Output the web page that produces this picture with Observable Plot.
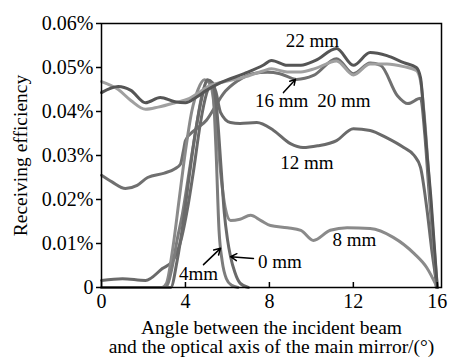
<!DOCTYPE html>
<html><head><meta charset="utf-8">
<script src="https://cdn.jsdelivr.net/npm/d3@7"></script>
<script src="https://cdn.jsdelivr.net/npm/@observablehq/plot@0.6"></script>
<style>
body{margin:0;background:#fff}
#chart svg, #chart svg text, #chart svg g{font-family:'Liberation Serif','Times New Roman',serif !important;}
</style>
</head><body><div id="chart"></div>
<script>
// Series values (receiving efficiency in %)
const x0 = [0, 3.3, 3.6, 3.9, 4.2, 4.5, 4.8, 5.05, 5.3, 5.5, 5.7, 5.85, 6.0, 6.15, 6.35, 6.6, 7.0];
const y0 = [0, 0, 0.006, 0.015, 0.026, 0.036, 0.0435, 0.0472, 0.0465, 0.04, 0.027, 0.017, 0.011, 0.007, 0.0035, 0.001, 0];
const x4 = [2.8, 3.05, 3.4, 3.6, 3.86, 4.2, 4.5, 4.8, 5.05, 5.3, 5.45, 5.6, 5.75, 5.95, 6.2, 6.5];
const y4 = [0, 0, 0.0054, 0.0107, 0.0168, 0.027, 0.036, 0.044, 0.047, 0.045, 0.032, 0.013, 0.006, 0.002, 0.0005, 0];
const x8 = [2.9, 3.1, 3.4, 3.7, 4.0, 4.3, 4.6, 4.9, 5.2, 5.45, 5.7, 5.9, 6.15, 6.6, 7.1, 7.6, 8.05, 8.86, 9.5, 10.1, 10.9, 11.7, 12.8, 13.9, 14.9, 15.5, 16.0];
const y8 = [0, 0.001, 0.009, 0.02, 0.031, 0.04, 0.045, 0.0472, 0.046, 0.038, 0.025, 0.018, 0.0152, 0.0155, 0.0164, 0.0152, 0.0141, 0.0136, 0.013, 0.0107, 0.013, 0.0136, 0.0134, 0.0114, 0.0077, 0.0045, 0];
const x12 = [0, 1, 2.1, 2.9, 3.4, 3.8, 4.1, 4.4, 4.7, 5.0, 5.25, 5.45, 5.67, 6.14, 6.6, 7.4, 8.2, 9.0, 9.6, 10.3, 11.2, 12.0, 12.8, 13.6, 14.4, 14.9, 15.2, 15.5, 15.75, 16.0];
const y12 = [0.0016, 0.002, 0.0016, 0.0043, 0.0061, 0.011, 0.018, 0.027, 0.037, 0.044, 0.0465, 0.0445, 0.0398, 0.0375, 0.0373, 0.0375, 0.0357, 0.0327, 0.0318, 0.0322, 0.0334, 0.0361, 0.0357, 0.034, 0.0318, 0.030, 0.0273, 0.018, 0.008, 0];
const x16 = [0, 0.5, 1.14, 1.7, 2.2, 3.0, 3.5, 3.76, 3.9, 4.0, 4.5, 5.0, 5.4, 5.8, 6.5, 7.2, 7.9, 8.5, 9.3, 10.1, 11.2, 12.0, 12.8, 13.3, 14.1, 14.6, 15.2, 15.4, 15.6, 15.8, 15.95];
const y16 = [0.0255, 0.024, 0.0225, 0.0232, 0.025, 0.026, 0.027, 0.028, 0.031, 0.0334, 0.036, 0.038, 0.041, 0.044, 0.047, 0.0486, 0.0489, 0.0486, 0.0473, 0.0482, 0.052, 0.0486, 0.051, 0.0505, 0.0436, 0.0418, 0.043, 0.035, 0.022, 0.01, 0];
const x20 = [0, 0.8, 1.4, 2.1, 2.7, 3.5, 4.2, 4.7, 5.2, 5.7, 6.8, 7.7, 8.1, 8.85, 9.5, 10.2, 11.2, 12.0, 12.8, 13.6, 14.4, 15.0, 15.2, 15.4, 15.6, 15.8, 16.0];
const y20 = [0.0468, 0.045, 0.0425, 0.0405, 0.041, 0.042, 0.043, 0.0445, 0.046, 0.0466, 0.0478, 0.0492, 0.0497, 0.049, 0.049, 0.0498, 0.0515, 0.0483, 0.0508, 0.0508, 0.0502, 0.0493, 0.047, 0.038, 0.025, 0.012, 0];
const x22 = [0, 0.8, 1.4, 2.1, 2.8, 3.5, 4.0, 4.5, 5.0, 5.7, 6.8, 7.7, 8.1, 8.85, 9.5, 10.2, 11.2, 12.0, 12.8, 13.6, 14.4, 15.0, 15.2, 15.35, 15.5, 15.7, 15.85, 16.0];
const y22 = [0.0443, 0.0457, 0.0448, 0.042, 0.0432, 0.0422, 0.042, 0.0432, 0.0448, 0.0466, 0.0486, 0.0505, 0.0516, 0.0505, 0.0505, 0.0516, 0.0543, 0.0505, 0.0534, 0.0527, 0.0511, 0.050, 0.0477, 0.04, 0.031, 0.02, 0.01, 0];

const seriesNames = ["16 mm", "12 mm", "8 mm", "4 mm", "0 mm", "20 mm", "22 mm"];
const seriesX = [x16, x12, x8, x4, x0, x20, x22];
const seriesY = [y16, y12, y8, y4, y0, y20, y22];
const seriesColors = ["#707070", "#6a6a6a", "#8a8a8a", "#7c7c7c", "#6a6a6a", "#a0a0a0", "#555555"];

const xTicks = [0, 4, 8, 12, 16];
const yTicks = [0, 0.01, 0.02, 0.03, 0.04, 0.05, 0.06];

// annotation labels
const labelText = ["22 mm", "16 mm", "20 mm", "12 mm", "8 mm", "0 mm", "4mm"];
const labelX = [10.05, 8.58, 11.55, 9.79, 12.05, 8.5, 4.62];
const labelY = [0.0561, 0.0425, 0.0425, 0.0284, 0.0109, 0.0059, 0.0032];
// annotation arrows
const arrowX1 = [8.67, 4.86, 7.24];
const arrowY1 = [0.0443, 0.0052, 0.0066];
const arrowX2 = [9.24, 5.67, 6.15];
const arrowY2 = [0.0473, 0.0089, 0.007];

const xTitle1 = "Angle between the incident beam";
const xTitle2 = "and the optical axis of the main mirror/(°)";
const yTitle = "Receiving efficiency";

const data = seriesNames.flatMap((s, i) => seriesX[i].map((x, j) => ({series: s, x, y: seriesY[i][j]})));
const labels = labelText.map((t, i) => ({t, x: labelX[i], y: labelY[i]}));
const arrows = arrowX1.map((x1, i) => ({x1, y1: arrowY1[i], x2: arrowX2[i], y2: arrowY2[i]}));

const font = "'Liberation Serif', 'Times New Roman', serif";
const chart = Plot.plot({
  width: 452, height: 359,
  marginLeft: 101, marginRight: 11, marginTop: 23, marginBottom: 72,
  style: {fontFamily: font, fontSize: "19px", background: "white", color: "black"},
  x: {domain: [0, 16.2]},
  y: {domain: [0, 0.06]},
  color: {domain: seriesNames, range: seriesColors},
  marks: [
    Plot.line(data, {x: "x", y: "y", z: "series", stroke: "series", strokeWidth: 3, curve: "monotone-x"}),
    Plot.frame({stroke: "black", strokeWidth: 1.5}),
    Plot.axisY({ticks: yTicks, tickFormat: d => d === 0 ? "0" : d.toFixed(2) + "%", tickSize: 5, tickPadding: 3, label: null, fontSize: 20, fontFamily: font, fontVariant: "normal", strokeWidth: 1.5}),
    Plot.axisX({ticks: xTicks, tickFormat: d => String(d), tickSize: -5, tickPadding: 11, label: null, fontSize: 20, fontFamily: font, fontVariant: "normal", strokeWidth: 1.5}),
    Plot.text(labels, {x: "x", y: "y", text: "t", fontSize: 19, fontFamily: font, fill: "black"}),
    Plot.arrow(arrows, {x1: "x1", y1: "y1", x2: "x2", y2: "y2", stroke: "black", strokeWidth: 1.5, headLength: 7}),
    Plot.text([xTitle1], {text: d => d, frameAnchor: "bottom", textAnchor: "middle", dy: 46, fontSize: 19.5, fontFamily: font, fill: "black"}),
    Plot.text([xTitle2], {text: d => d, frameAnchor: "bottom", textAnchor: "middle", dy: 65, fontSize: 19.5, fontFamily: font, fill: "black"}),
    Plot.text([yTitle], {text: d => d, frameAnchor: "left", textAnchor: "middle", dx: -81, rotate: -90, fontSize: 19.5, fontFamily: font, fill: "black"})
  ]
});
document.getElementById("chart").appendChild(chart);
</script>
</body></html>
